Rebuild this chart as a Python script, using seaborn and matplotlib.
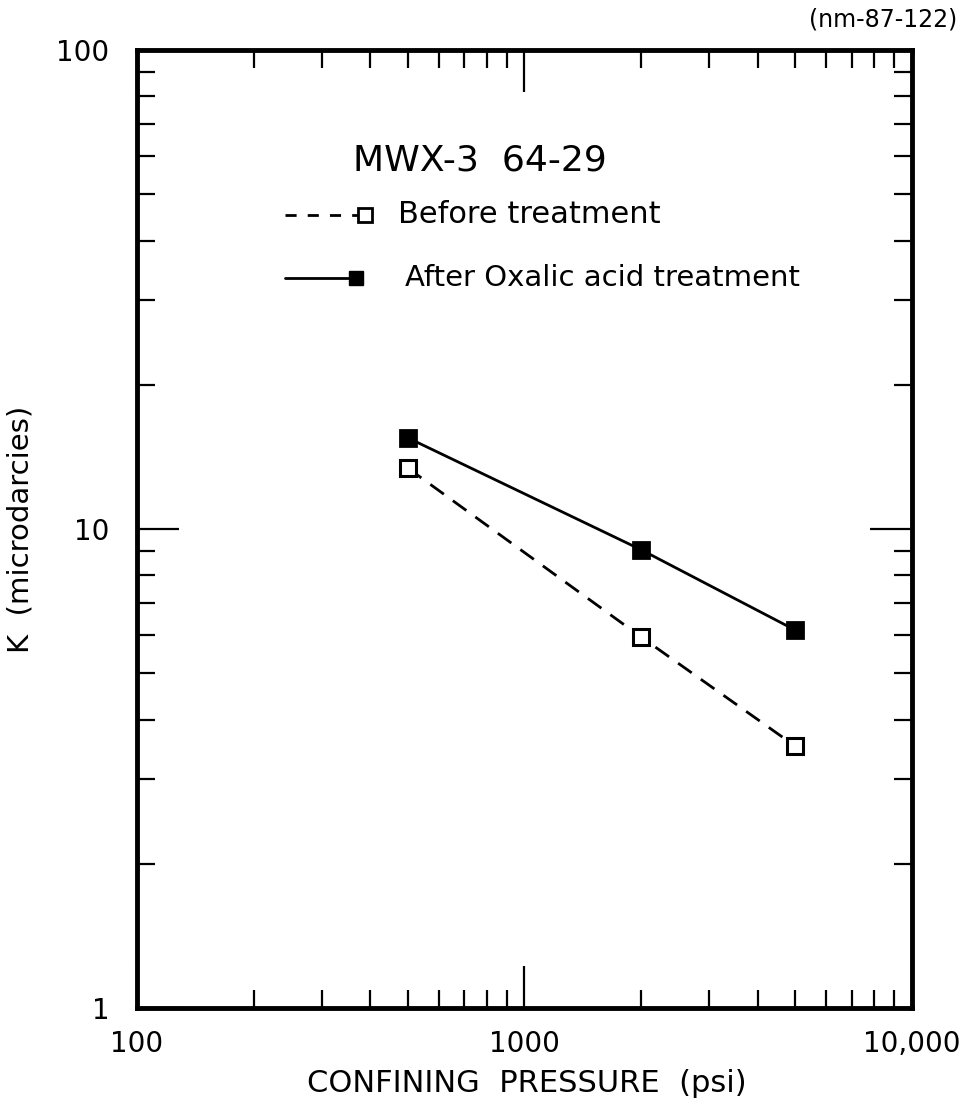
import matplotlib
matplotlib.use("Agg")
import matplotlib.pyplot as plt
import matplotlib.ticker as mticker
import numpy as np
import pandas as pd
import seaborn as sns

# Permeability vs confining pressure, sample MWX-3 64-29
pressure_psi = [500, 2000, 5000]
k_before = [13.4, 5.95, 3.52]
k_after = [15.5, 9.05, 6.15]
series_names = ["Before treatment", "After Oxalic acid treatment"]

x_ticks = [100, 1000, 10000]
x_ticklabels = ["100", "1000", "10,000"]
y_ticks = [1, 10, 100]
y_ticklabels = ["1", "10", "100"]

df = pd.DataFrame({
    "pressure": pressure_psi * 2,
    "k": k_before + k_after,
    "series": [series_names[0]] * 3 + [series_names[1]] * 3,
})

sns.set_theme(style="white")
plt.rcParams["font.family"] = ["DejaVu Sans"]
plt.rcParams["text.color"] = "black"
plt.rcParams["axes.labelcolor"] = "black"
plt.rcParams["xtick.color"] = "black"
plt.rcParams["ytick.color"] = "black"

fig = plt.figure(figsize=(9.73, 11.06), dpi=100)
ax = fig.add_axes([0.1408, 0.0886, 0.7965, 0.8662])

before = df[df["series"] == series_names[0]]
after = df[df["series"] == series_names[1]]

sns.lineplot(data=before, x="pressure", y="k", ax=ax, color="black",
             linestyle=(0, (6, 4)), linewidth=2, marker="s", markersize=11,
             markerfacecolor="white", markeredgecolor="black",
             markeredgewidth=2.2, legend=False)
sns.lineplot(data=after, x="pressure", y="k", ax=ax, color="black",
             linestyle="-", linewidth=2, marker="s", markersize=11,
             markerfacecolor="black", markeredgecolor="black",
             markeredgewidth=2, legend=False)

ax.set_xscale("log")
ax.set_yscale("log")
ax.set_xlim(100, 10000)
ax.set_ylim(1, 100)

ax.xaxis.set_major_locator(mticker.FixedLocator(x_ticks))
ax.xaxis.set_major_formatter(mticker.FixedFormatter(x_ticklabels))
ax.yaxis.set_major_locator(mticker.FixedLocator(y_ticks))
ax.yaxis.set_major_formatter(mticker.FixedFormatter(y_ticklabels))
ax.xaxis.set_minor_locator(mticker.LogLocator(base=10, subs=np.arange(2, 10)))
ax.yaxis.set_minor_locator(mticker.LogLocator(base=10, subs=np.arange(2, 10)))
ax.xaxis.set_minor_formatter(mticker.NullFormatter())
ax.yaxis.set_minor_formatter(mticker.NullFormatter())

ax.tick_params(which="both", direction="in", top=True, right=True,
               bottom=True, left=True, color="black", width=1.6)
ax.tick_params(which="major", length=30, labelsize=20, pad=16)
ax.tick_params(which="minor", length=13)
ax.tick_params(axis="y", which="major", pad=20)

for s in ax.spines.values():
    s.set_visible(True)
    s.set_color("black")
    s.set_linewidth(3.5)

ax.set_xlabel("CONFINING  PRESSURE  (psi)", fontsize=22, va="top")
ax.set_ylabel("K  (microdarcies)", fontsize=21)
ax.xaxis.set_label_coords(0.503, -0.064)
ax.yaxis.set_label_coords(-0.132, 0.5)
ax.grid(False)

# Sample title and hand-drawn style legend
ax.text(0.443, 0.885, "MWX-3  64-29", transform=ax.transAxes,
        ha="center", va="center", fontsize=26)
ax.plot([0.191, 0.294], [0.828, 0.828], transform=ax.transAxes,
        color="black", linestyle=(0, (4, 4)), linewidth=2)
ax.plot([0.294], [0.828], transform=ax.transAxes, marker="s",
        markersize=10, markerfacecolor="white", markeredgecolor="black",
        markeredgewidth=2)
ax.text(0.337, 0.828, series_names[0], transform=ax.transAxes,
        ha="left", va="center", fontsize=22)
ax.plot([0.191, 0.283], [0.762, 0.762], transform=ax.transAxes,
        color="black", linestyle="-", linewidth=2)
ax.plot([0.283], [0.762], transform=ax.transAxes, marker="s",
        markersize=10, markerfacecolor="black", markeredgecolor="black")
ax.text(0.346, 0.762, series_names[1], transform=ax.transAxes,
        ha="left", va="center", fontsize=21)

fig.text(0.908, 0.982, "(nm-87-122)", ha="center", va="center", fontsize=17)

fig.savefig("out.png", dpi=100, facecolor="white")
